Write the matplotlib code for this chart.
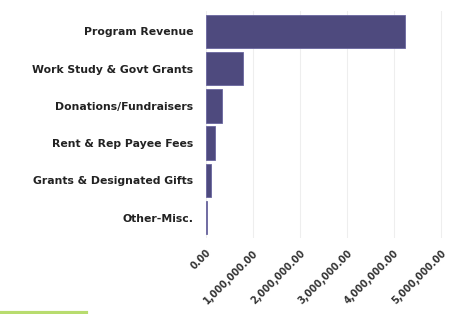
import matplotlib.pyplot as plt
from matplotlib.ticker import FuncFormatter
from matplotlib.lines import Line2D

categorias = ["Program Revenue", "Work Study & Govt Grants", "Donations/Fundraisers",
              "Rent & Rep Payee Fees", "Grants & Designated Gifts", "Other-Misc."]
valores = [4230000, 790000, 340000, 190000, 95000, 20000]

fig = plt.figure(figsize=(4.5, 3.14), dpi=100)
ax = fig.add_axes([0.458, 0.242, 0.527, 0.723])

pos = list(range(len(categorias)))[::-1]
ax.barh(pos, valores, height=0.9, color='#4e4a7e', edgecolor='#6a66a0', linewidth=0.6, zorder=3)

ax.set_yticks(pos)
ax.set_yticklabels(categorias, fontsize=7.8, fontweight='bold', color='#222222')
ax.set_ylim(-0.55, 5.55)
ax.set_xlim(0, 5.05e6)
ax.set_xticks([0, 1e6, 2e6, 3e6, 4e6, 5e6])
ax.xaxis.set_major_formatter(FuncFormatter(lambda v, p: f"{v:,.2f}"))
for lbl in ax.get_xticklabels():
    lbl.set_rotation(45)
    lbl.set_ha('right')
    lbl.set_rotation_mode('anchor')
    lbl.set_fontsize(7)
    lbl.set_fontweight('bold')
    lbl.set_color('#333333')

ax.tick_params(axis='y', length=0, pad=9)
ax.tick_params(axis='x', length=0, pad=7)
for s in ax.spines.values():
    s.set_visible(False)
ax.grid(axis='x', color='#eeeeee', linewidth=0.8, zorder=0)

# faixa verde no canto inferior
fig.add_artist(Line2D([0, 0.19], [0.004, 0.004], color='#b8dc6e', linewidth=3, transform=fig.transFigure))

plt.savefig('out.png', dpi=100)
